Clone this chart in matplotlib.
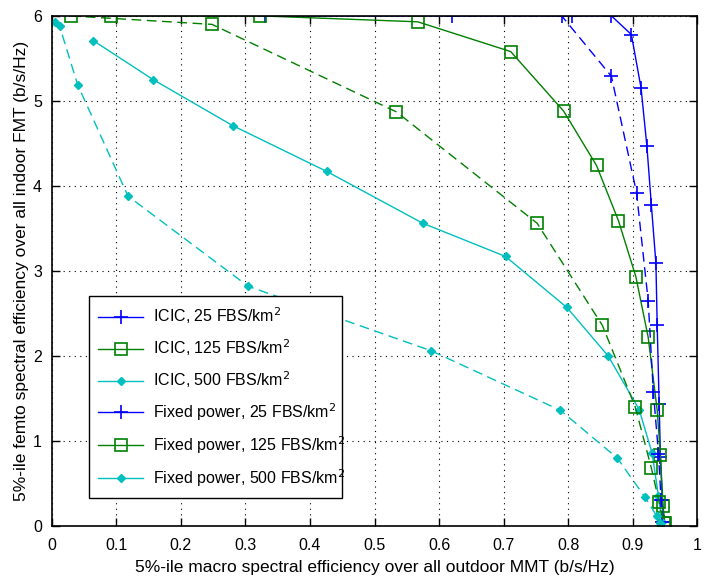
import matplotlib
matplotlib.use("Agg")
import matplotlib.pyplot as plt
from matplotlib.lines import Line2D

plt.rcParams['font.family'] = ['Liberation Sans', 'DejaVu Sans']

# ICIC (solid) and Fixed power (dashed) curves
icic25_x = [0.33, 0.806, 0.867, 0.898, 0.913, 0.922, 0.929, 0.936, 0.938, 0.941, 0.943, 0.946, 0.948]
icic25_y = [6.0, 6.0, 6.0, 5.78, 5.15, 4.47, 3.77, 3.09, 2.36, 1.44, 0.81, 0.30, 0.05]

icic125_x = [0.091, 0.322, 0.567, 0.711, 0.793, 0.844, 0.878, 0.905, 0.924, 0.938, 0.943, 0.947, 0.950]
icic125_y = [6.0, 6.0, 5.93, 5.58, 4.88, 4.24, 3.59, 2.93, 2.22, 1.36, 0.83, 0.24, 0.03]

icic500_x = [0.064, 0.157, 0.280, 0.426, 0.575, 0.703, 0.798, 0.862, 0.910, 0.930, 0.940, 0.945]
icic500_y = [5.71, 5.25, 4.71, 4.17, 3.56, 3.17, 2.57, 2.00, 1.37, 0.86, 0.35, 0.05]

fixed25_x = [0.62, 0.79, 0.867, 0.906, 0.924, 0.932, 0.940, 0.944, 0.946]
fixed25_y = [6.0, 6.0, 5.29, 3.92, 2.65, 1.58, 0.85, 0.30, 0.05]

fixed125_x = [0.029, 0.248, 0.534, 0.752, 0.853, 0.904, 0.929, 0.941, 0.948]
fixed125_y = [6.0, 5.90, 4.87, 3.56, 2.36, 1.40, 0.68, 0.28, 0.03]

fixed500_x = [0.005, 0.012, 0.040, 0.118, 0.304, 0.588, 0.788, 0.876, 0.919, 0.937, 0.943]
fixed500_y = [5.93, 5.88, 5.19, 3.88, 2.82, 2.06, 1.36, 0.80, 0.34, 0.12, 0.04]

labels = ['ICIC, 25 FBS/km$^2$', 'ICIC, 125 FBS/km$^2$', 'ICIC, 500 FBS/km$^2$',
          'Fixed power, 25 FBS/km$^2$', 'Fixed power, 125 FBS/km$^2$', 'Fixed power, 500 FBS/km$^2$']

xticks = [0, 0.1, 0.2, 0.3, 0.4, 0.5, 0.6, 0.7, 0.8, 0.9, 1]
yticks = [0, 1, 2, 3, 4, 5, 6]

blue = '#0000ff'
green = '#008000'
cyan = '#00bfbf'
dash = (0, (7, 4))

styles = [
    dict(color=blue, marker='+', ms=10, mew=1.2),
    dict(color=green, marker='s', ms=8, mfc='none', mew=1.2),
    dict(color=cyan, marker='D', ms=4),
]

fig = plt.figure(figsize=(7.10, 5.81), dpi=100)
ax = fig.add_axes([0.073, 0.0947, 0.909, 0.878])

series = [(icic25_x, icic25_y, 0, '-'), (icic125_x, icic125_y, 1, '-'), (icic500_x, icic500_y, 2, '-'),
          (fixed25_x, fixed25_y, 0, dash), (fixed125_x, fixed125_y, 1, dash), (fixed500_x, fixed500_y, 2, dash)]
for xs, ys, k, ls in series:
    ax.plot(xs, ys, lw=1.0, ls=ls, **styles[k])

handles = [Line2D([], [], lw=1.0, ls='-', **styles[k]) for k in (0, 1, 2, 0, 1, 2)]

ax.set_xlim(0, 1)
ax.set_ylim(0, 6)
ax.set_xticks(xticks)
ax.set_yticks(yticks)
ax.set_xticklabels([('%g' % t) for t in xticks])
ax.set_yticklabels([('%g' % t) for t in yticks])
ax.grid(True, color='black', ls=(0, (1, 4)), lw=0.8)
ax.tick_params(direction='in', top=True, right=True, length=6, labelsize=11.5, width=1)
ax.tick_params(axis='x', pad=9)
ax.tick_params(axis='y', pad=7)
for s in ax.spines.values():
    s.set_linewidth(1.2)

ax.set_xlabel('5%-ile macro spectral efficiency over all outdoor MMT (b/s/Hz)', fontsize=12.5, labelpad=5)
ax.set_ylabel('5%-ile femto spectral efficiency over all indoor FMT (b/s/Hz)', fontsize=12.5, labelpad=3)

leg = ax.legend(handles, labels, loc='lower left', bbox_to_anchor=(0.057, 0.054, 0.393, 0.391), mode='expand',
                fontsize=11.5, frameon=True, fancybox=False, edgecolor='black',
                borderaxespad=0, handlelength=2.8, handletextpad=0.6, labelspacing=0.7, borderpad=0.6)
leg.get_frame().set_linewidth(1.0)
leg.get_frame().set_alpha(1)

fig.savefig('out.png', dpi=100)
